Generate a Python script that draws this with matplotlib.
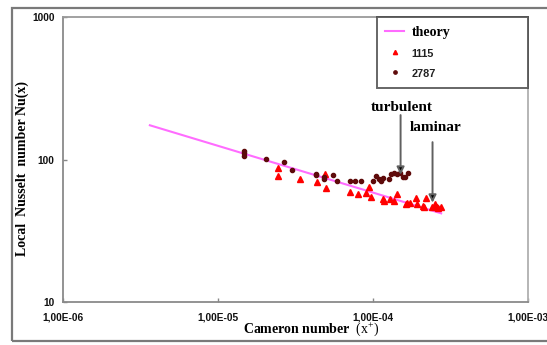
import matplotlib
matplotlib.use("Agg")
import matplotlib.pyplot as plt
from matplotlib.patches import Rectangle
from matplotlib.ticker import FixedLocator, FixedFormatter, NullLocator

plt.rcParams['mathtext.fontset'] = 'custom'
plt.rcParams['mathtext.rm'] = 'Liberation Serif'

# ---- data ----
theory_x = [3.63e-6, 1.0e-4, 2.74e-4]
theory_y = [174.7, 58.8, 42.1]

s1115_x = [2.43e-5, 2.43e-5, 3.37e-5, 4.37e-5, 4.85e-5, 4.95e-5, 7.05e-5, 8.0e-5,
           9.0e-5, 9.4e-5, 9.6e-5, 1.16e-4, 1.18e-4, 1.28e-4, 1.36e-4, 1.42e-4,
           1.62e-4, 1.66e-4, 1.72e-4, 1.88e-4, 1.90e-4, 2.10e-4, 2.12e-4, 2.19e-4,
           2.38e-4, 2.50e-4, 2.56e-4, 2.62e-4, 2.72e-4]
s1115_y = [87.5, 77.4, 72.9, 69.7, 79.0, 63.1, 59.8, 57.4,
           58.8, 64.1, 54.6, 52.8, 51.2, 52.8, 51.4, 57.5,
           49.0, 50.0, 49.5, 53.7, 49.0, 47.5, 46.5, 53.7,
           46.5, 49.0, 46.9, 45.7, 46.5]

s2787_x = [1.47e-5, 1.47e-5, 1.47e-5, 2.04e-5, 2.67e-5, 3.0e-5, 4.25e-5, 4.25e-5,
           4.8e-5, 4.8e-5, 5.5e-5, 5.86e-5, 7.08e-5, 7.62e-5, 8.3e-5, 9.9e-5,
           1.04e-4, 1.09e-4, 1.12e-4, 1.15e-4, 1.27e-4, 1.31e-4, 1.36e-4, 1.43e-4,
           1.49e-4, 1.56e-4, 1.60e-4, 1.67e-4]
s2787_y = [115.8, 111.0, 106.5, 101.0, 96.6, 84.9, 80.0, 78.3,
           76.2, 73.4, 78.7, 71.3, 71.3, 71.3, 71.3, 71.0,
           76.5, 72.9, 71.3, 74.1, 72.9, 79.4, 80.3, 79.1,
           81.1, 76.0, 75.4, 80.3]

xticks = [1e-6, 1e-5, 1e-4, 1e-3]
xticklabels = ["1,00E-06", "1,00E-05", "1,00E-04", "1,00E-03"]
yticks = [10, 100, 1000]
yticklabels = ["10", "100", "1000"]

# ---- figure ----
fig = plt.figure(figsize=(5.47, 3.45), dpi=100)
ax = fig.add_axes([63 / 547, 1 - 302.3 / 345, 465.4 / 547, 285 / 345])

# outer frame
fig.patches.append(Rectangle((11.5 / 547, 1 - 340.5 / 345), 1.0, (340.5 - 8.3) / 345,
                             transform=fig.transFigure, fill=False,
                             edgecolor='#7a7a7a', linewidth=1.6))

ax.set_xscale('log')
ax.set_yscale('log')
ax.set_xlim(1e-6, 1e-3)
ax.set_ylim(10, 1000)

ln, = ax.plot(theory_x, theory_y, color='#ff6cff', lw=1.5, label='theory', zorder=2)
tr, = ax.plot(s1115_x, s1115_y, linestyle='none', marker='^', ms=3.8,
              color='#ff0000', mec='#ff0000', label='1115', zorder=3)
ci, = ax.plot(s2787_x, s2787_y, linestyle='none', marker='o', ms=3.0,
              color='#5e0a0a', mec='#5e0a0a', label='2787', zorder=4)

ax.xaxis.set_major_locator(FixedLocator(xticks))
ax.xaxis.set_major_formatter(FixedFormatter(xticklabels))
ax.xaxis.set_minor_locator(NullLocator())
ax.yaxis.set_major_locator(FixedLocator(yticks))
ax.yaxis.set_major_formatter(FixedFormatter(yticklabels))
ax.yaxis.set_minor_locator(NullLocator())

ax.tick_params(axis='both', direction='in', length=3, width=1, color='#888888')
ax.tick_params(axis='x', pad=7)
ax.tick_params(axis='y', pad=6)
for lab in ax.get_xticklabels() + ax.get_yticklabels():
    lab.set_fontfamily('Liberation Sans')
    lab.set_fontweight('bold')
    lab.set_fontsize(7.3)
    lab.set_color('#111111')

ax.spines['left'].set_color('#8a8a8a')
ax.spines['bottom'].set_color('#8a8a8a')
ax.spines['top'].set_color('#9a9a9a')
ax.spines['right'].set_color('#b0b0b0')
for s in ax.spines.values():
    s.set_linewidth(1.3)

ax.set_xlabel("Cameron number  $(\\mathrm{x}^{+})$", fontfamily='Liberation Serif',
              fontweight='bold', fontsize=10, va='center')
ax.xaxis.set_label_coords(0.533, -0.097)
ax.set_ylabel("Local  Nusselt  number Nu(x)", fontfamily='Liberation Serif',
              fontweight='bold', fontsize=10, va='center')
ax.yaxis.set_label_coords(-0.088, 0.471)

# annotations
arrow_kw = dict(arrowstyle='-|>,head_length=0.45,head_width=0.22', ec='#606060',
                fc='black', lw=1.4, shrinkA=0, shrinkB=0)
ax.annotate('', xy=(1.5e-4, 78.5), xytext=(1.5e-4, 206), arrowprops=arrow_kw, zorder=5)
ax.annotate('', xy=(2.41e-4, 50.0), xytext=(2.41e-4, 133), arrowprops=arrow_kw, zorder=5)
ax.text(1.53e-4, 233, 'turbulent', fontfamily='Liberation Serif', fontweight='bold',
        fontsize=11, ha='center', va='center')
ax.text(2.54e-4, 169, 'laminar', fontfamily='Liberation Serif', fontweight='bold',
        fontsize=11, ha='center', va='center')

# legend
leg = ax.legend(handles=[ln, tr, ci], loc='upper left',
                bbox_to_anchor=(0.674, 1.0, 0.326, 0.0), mode='expand',
                borderaxespad=0, fancybox=False, frameon=True, markerscale=0.8,
                prop={'family': 'Liberation Serif', 'weight': 'bold', 'size': 10},
                handlelength=1.4, handletextpad=0.5, labelspacing=0.62,
                borderpad=0.6)
leg.get_frame().set_edgecolor('#404040')
leg.get_frame().set_linewidth(1.4)
texts = leg.get_texts()
for t in texts[1:]:
    t.set_fontfamily('Liberation Sans')
    t.set_fontsize(7.8)
    t.set_color('#222222')

fig.savefig('out.png', dpi=100)
